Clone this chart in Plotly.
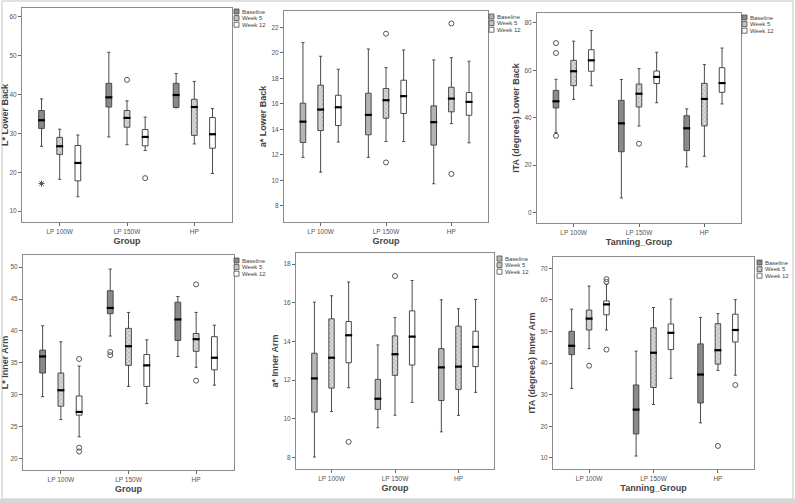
import plotly.graph_objects as go

W, H = 795, 503

groups = ["LP 100W", "LP 150W", "HP"]
series = ["Baseline", "Week 5", "Week 12"]

# Five-number summaries per group: [lower whisker, Q1, median, Q3, upper whisker]
lback_L_base = [[26.7, 31.3, 33.4, 35.9, 38.9], [29.1, 36.8, 39.3, 42.9, 50.9], [36.6, 36.7, 39.9, 42.9, 45.4]]
lback_L_wk5 = [[18.2, 24.6, 26.7, 29.0, 31.1], [27.1, 31.6, 34.0, 35.9, 38.4], [27.3, 29.5, 36.8, 38.8, 43.4]]
lback_L_wk12 = [[13.7, 17.8, 22.4, 26.9, 29.6], [25.6, 26.8, 29.1, 31.0, 34.2], [19.7, 26.2, 29.8, 34.1, 36.4]]

lback_a_base = [[11.8, 12.97, 14.6, 16.05, 20.8], [11.8, 13.57, 15.13, 16.83, 20.3], [9.73, 12.76, 14.56, 15.84, 19.44]]
lback_a_wk5 = [[10.64, 13.9, 15.55, 17.46, 19.73], [13.04, 14.87, 16.28, 17.2, 18.84], [14.45, 15.37, 16.41, 17.3, 19.62]]
lback_a_wk12 = [[13.0, 14.3, 15.73, 16.67, 18.71], [13.04, 15.24, 16.6, 17.85, 20.22], [12.94, 15.1, 16.15, 16.88, 19.34]]

lback_ITA_base = [[33.7, 44.1, 46.9, 51.5, 56.2], [6.1, 25.6, 37.6, 47.3, 56.1], [19.2, 26.1, 35.5, 40.8, 43.7]]
lback_ITA_wk5 = [[47.7, 53.5, 59.6, 64.2, 72.3], [36.5, 44.5, 50.1, 54.2, 60.7], [23.7, 36.5, 47.9, 54.5, 62.4]]
lback_ITA_wk12 = [[53.5, 59.6, 64.2, 68.7, 76.8], [46.3, 54.4, 57.2, 59.7, 67.6], [45.8, 50.7, 54.6, 61.1, 69.4]]

iarm_L_base = [[29.7, 33.4, 36.0, 37.0, 40.8], [39.2, 42.7, 43.6, 46.3, 49.7], [36.0, 38.5, 41.8, 44.5, 45.4]]
iarm_L_wk5 = [[26.1, 28.2, 30.7, 33.4, 38.3], [31.3, 34.6, 37.6, 40.4, 42.9], [34.3, 36.8, 38.7, 39.6, 42.9]]
iarm_L_wk12 = [[23.4, 26.8, 27.3, 29.8, 34.5], [28.6, 31.3, 34.6, 36.3, 38.6], [31.5, 33.9, 35.8, 39.1, 40.9]]

iarm_a_base = [[8.03, 10.35, 12.09, 13.39, 16.03], [9.54, 10.49, 11.04, 12.04, 13.82], [9.33, 10.95, 12.66, 13.63, 16.15]]
iarm_a_wk5 = [[10.38, 11.59, 13.16, 15.17, 16.36], [10.19, 12.25, 13.34, 14.29, 15.24], [10.18, 11.52, 12.7, 14.79, 15.69]]
iarm_a_wk12 = [[11.61, 12.9, 14.32, 15.03, 17.07], [10.85, 12.78, 14.25, 15.58, 17.15], [11.37, 12.7, 13.72, 14.53, 16.17]]

iarm_ITA_base = [[32.0, 42.7, 45.5, 50.1, 57.1], [10.6, 17.6, 25.3, 33.1, 43.8], [21.1, 27.4, 36.4, 46.1, 54.5]]
iarm_ITA_wk5 = [[44.6, 50.5, 54.1, 56.8, 64.4], [26.9, 32.3, 43.3, 51.2, 57.6], [37.7, 39.7, 44.1, 52.5, 55.7]]
iarm_ITA_wk12 = [[50.5, 55.3, 58.6, 59.7, 65.0], [35.2, 44.3, 49.6, 52.4, 60.3], [36.2, 46.7, 50.5, 55.5, 60.1]]

# Outliers: [group index, value]
lback_L_out = [[[0, 17.1]], [[1, 43.8]], [[1, 18.5]]]
lback_a_out = [[], [[1, 21.5], [1, 11.4], [2, 22.3], [2, 10.5]], []]
lback_ITA_out = [[[0, 71.5], [0, 67.3], [0, 32.3]], [[1, 29.0]], []]
iarm_L_out = [[[1, 36.7], [1, 36.2]], [[2, 47.3], [2, 32.2]], [[0, 35.6], [0, 21.7], [0, 21.1]]]
iarm_a_out = [[], [[1, 17.38]], [[0, 8.81]]]
iarm_ITA_out = [[], [[0, 39.2], [2, 13.8]], [[0, 66.6], [0, 65.7], [0, 44.3], [2, 33.1]]]
extreme_series = [0]  # in panel 1, Baseline outlier marked as extreme (star)

panels = [
    dict(stats=[lback_L_base, lback_L_wk5, lback_L_wk12], out=lback_L_out,
         ytitle="L* Lower Back", xtitle="Group", yrange=[7.2, 62.3], dtick=10,
         box=(22, 8, 232, 222), leg=(234, 7), base="#8a8a8a", star=True),
    dict(stats=[lback_a_base, lback_a_wk5, lback_a_wk12], out=lback_a_out,
         ytitle="a* Lower Back", xtitle="Group", yrange=[6.73, 23.28], dtick=2,
         box=(284, 11, 488, 222), leg=(489, 12), base="#b4b4b4", star=False),
    dict(stats=[lback_ITA_base, lback_ITA_wk5, lback_ITA_wk12], out=lback_ITA_out,
         ytitle="ITA (degrees) Lower Back", xtitle="Tanning_Group", yrange=[-4.5, 84.2], dtick=20,
         box=(537, 13, 741, 223), leg=(742, 13), base="#8a8a8a", star=False),
    dict(stats=[iarm_L_base, iarm_L_wk5, iarm_L_wk12], out=iarm_L_out,
         ytitle="L* Inner Arm", xtitle="Group", yrange=[18.2, 51.9], dtick=5,
         box=(23, 255, 234, 470), leg=(234, 256), base="#8a8a8a", star=False),
    dict(stats=[iarm_a_base, iarm_a_wk5, iarm_a_wk12], out=iarm_a_out,
         ytitle="a* Inner Arm", xtitle="Group", yrange=[7.41, 18.57], dtick=2,
         box=(296, 253, 494, 469), leg=(497, 254), base="#b8b8b8", star=False),
    dict(stats=[iarm_ITA_base, iarm_ITA_wk5, iarm_ITA_wk12], out=iarm_ITA_out,
         ytitle="ITA (degrees) Inner Arm", xtitle="Tanning_Group", yrange=[6.5, 73.6], dtick=10,
         box=(553, 257, 754, 469), leg=(757, 258), base="#8a8a8a", star=False),
]

offsets = [-0.27, 0.0, 0.27]
bw = 0.085
FONT = "Liberation Sans, Arial, sans-serif"
LINE = "#4a4a4a"

def px(x):
    return x / W

def py(y):
    return 1 - y / H

fig = go.Figure()
layout = dict(width=W, height=H, margin=dict(l=0, r=0, t=0, b=0, pad=0),
              paper_bgcolor="white", plot_bgcolor="white", showlegend=False,
              boxmode="overlay", barmode="overlay", font=dict(family=FONT, color="#444"))
shapes = []
annotations = []

for i, p in enumerate(panels):
    n = "" if i == 0 else str(i + 1)
    xa, ya = "x" + n, "y" + n
    fills = [p["base"], "rgba(0,0,0,0)", "white"]
    for k in range(3):
        st = p["stats"][k]
        pos = [g + offsets[k] for g in range(len(groups))]
        lo = [s[0] for s in st]
        q1 = [s[1] for s in st]
        med = [s[2] for s in st]
        q3 = [s[3] for s in st]
        hi = [s[4] for s in st]
        if k == 1:
            fig.add_trace(go.Bar(x=pos, y=[b - a for a, b in zip(q1, q3)], base=q1, width=bw,
                                 xaxis=xa, yaxis=ya, name=series[k],
                                 marker=dict(color="#dcdcdc", line=dict(width=0),
                                             pattern=dict(shape="x", fgcolor="#6e6e6e", bgcolor="#dcdcdc",
                                                          size=3, solidity=0.35)),
                                 hoverinfo="skip"))
        fig.add_trace(go.Box(x=pos, q1=q1, median=med, q3=q3, lowerfence=lo, upperfence=hi,
                             width=bw, whiskerwidth=0.55, fillcolor=fills[k],
                             line=dict(color=LINE, width=1), boxpoints=False,
                             xaxis=xa, yaxis=ya, name=series[k]))
        fig.add_trace(go.Scatter(x=pos, y=med, mode="markers", xaxis=xa, yaxis=ya,
                                 marker=dict(symbol="line-ew", size=5, color="black",
                                             line=dict(width=2.2, color="black")),
                                 hoverinfo="skip"))
        outs = p["out"][k]
        if outs:
            sym = "asterisk-open" if (p["star"] and k in extreme_series) else "circle-open"
            fig.add_trace(go.Scatter(x=[o[0] + offsets[k] for o in outs], y=[o[1] for o in outs],
                                     mode="markers", xaxis=xa, yaxis=ya,
                                     marker=dict(symbol=sym, size=5, color="#555",
                                                 line=dict(width=1, color="#555"))))
    x0, y0, x1, y1 = p["box"]
    layout["xaxis" + n] = dict(domain=[px(x0), px(x1)], anchor=ya, range=[-0.56, 2.56],
                               tickvals=list(range(len(groups))), ticktext=groups,
                               ticks="outside", ticklen=3, tickcolor="#666", showline=True, mirror=True,
                               linecolor="#8c8c8c", linewidth=1, showgrid=False, zeroline=False,
                               tickfont=dict(size=6.5, color="#555"),
                               title=dict(text="<b>" + p["xtitle"] + "</b>", standoff=3,
                                          font=dict(size=9, color="#444")))
    layout["yaxis" + n] = dict(domain=[py(y1), py(y0)], anchor=xa, range=p["yrange"],
                               dtick=p["dtick"], tick0=0, ticks="outside", ticklen=3, tickcolor="#666",
                               showline=True, mirror=True, linecolor="#8c8c8c", linewidth=1,
                               showgrid=False, zeroline=False, tickfont=dict(size=6.5, color="#555"),
                               title=dict(text="<b>" + p["ytitle"] + "</b>", standoff=3,
                                          font=dict(size=9, color="#444")))
    # Legend drawn per panel
    lx, ly = p["leg"]
    leg_fills = [p["base"], "#c4c4c4", "white"]
    for k, name in enumerate(series):
        yy = ly + 2 + k * 6.6
        shapes.append(dict(type="rect", xref="paper", yref="paper",
                           x0=px(lx), x1=px(lx + 5), y0=py(yy + 5), y1=py(yy),
                           fillcolor=leg_fills[k], line=dict(color=LINE, width=0.8)))
        annotations.append(dict(text=name, xref="paper", yref="paper", x=px(lx + 6), y=py(yy + 2.5),
                                xanchor="left", yanchor="middle", showarrow=False,
                                font=dict(size=6, color="#444")))

# outer frame of the figure
shapes.append(dict(type="rect", xref="paper", yref="paper", x0=px(2), x1=px(793), y0=py(499), y1=py(1),
                   line=dict(color="#c4c4c4", width=1)))
shapes.append(dict(type="rect", xref="paper", yref="paper", x0=0, x1=1, y0=0, y1=py(499),
                   fillcolor="#d6d6d6", line=dict(width=0)))

layout["shapes"] = shapes
layout["annotations"] = annotations
fig.update_layout(**layout)
fig.write_html("out.html", config={"displayModeBar": False},
               post_script="document.body.style.margin='0';document.body.style.padding='0';")
